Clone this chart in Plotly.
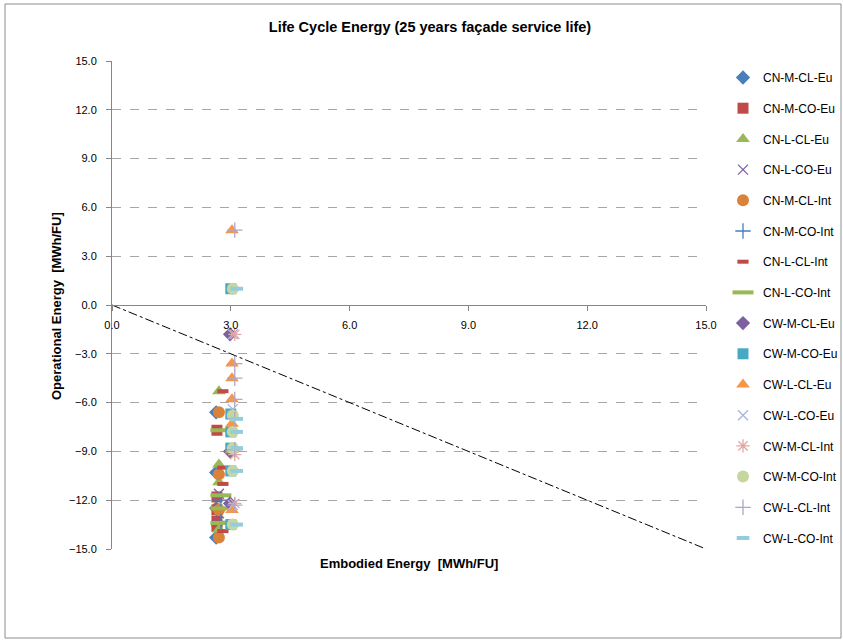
import plotly.graph_objects as go

# ---- data ----
series_names = [
    "CN-M-CL-Eu", "CN-M-CO-Eu", "CN-L-CL-Eu", "CN-L-CO-Eu",
    "CN-M-CL-Int", "CN-M-CO-Int", "CN-L-CL-Int", "CN-L-CO-Int",
    "CW-M-CL-Eu", "CW-M-CO-Eu", "CW-L-CL-Eu", "CW-L-CO-Eu",
    "CW-M-CL-Int", "CW-M-CO-Int", "CW-L-CL-Int", "CW-L-CO-Int",
]

cn_m_cl_eu_x = [2.63, 2.63, 2.63, 2.63]
cn_m_cl_eu_y = [-6.6, -10.3, -12.5, -14.3]
cn_m_co_eu_x = [2.65, 2.65, 2.65, 2.65, 2.65]
cn_m_co_eu_y = [-7.7, -11.8, -12.6, -13.3, -13.6]
cn_l_cl_eu_x = [2.7, 2.7, 2.7, 2.7, 2.7]
cn_l_cl_eu_y = [-5.3, -9.8, -10.9, -12.5, -13.8]
cn_l_co_eu_x = [2.7, 2.7]
cn_l_co_eu_y = [-11.6, -12.8]
cn_m_cl_int_x = [2.7, 2.7, 2.7, 2.7]
cn_m_cl_int_y = [-6.6, -10.4, -12.6, -14.3]
cn_m_co_int_x = [2.75, 2.75]
cn_m_co_int_y = [-12.0, -13.3]
cn_l_cl_int_x = [2.8, 2.8, 2.8, 2.8]
cn_l_cl_int_y = [-5.3, -10.0, -11.0, -13.9]
cn_l_co_int_x = [2.75, 2.75, 2.75, 2.75]
cn_l_co_int_y = [-7.7, -11.7, -12.5, -13.4]

cw_m_cl_eu_x = [2.98, 2.98, 2.98]
cw_m_cl_eu_y = [-1.8, -9.0, -12.2]
cw_m_co_eu_x = [3.0, 3.0, 3.0, 3.0, 3.0, 3.0]
cw_m_co_eu_y = [1.0, -6.7, -7.8, -8.8, -10.2, -13.5]
cw_l_cl_eu_x = [3.03, 3.03, 3.03, 3.03, 3.03, 3.03, 3.03]
cw_l_cl_eu_y = [4.6, -3.6, -4.5, -5.8, -7.3, -8.9, -12.6]
cw_l_co_eu_x = [3.05, 3.05, 3.05]
cw_l_co_eu_y = [-1.8, -6.4, -12.3]
cw_m_cl_int_x = [3.1, 3.1, 3.1]
cw_m_cl_int_y = [-1.8, -9.2, -12.2]
cw_m_co_int_x = [3.05, 3.05, 3.05, 3.05, 3.05, 3.05]
cw_m_co_int_y = [1.0, -6.8, -7.8, -8.8, -10.2, -13.5]
cw_l_cl_int_x = [3.1, 3.1, 3.1, 3.1, 3.1, 3.1, 3.1]
cw_l_cl_int_y = [4.6, -3.6, -4.5, -5.8, -7.0, -8.9, -12.3]
cw_l_co_int_x = [3.15, 3.15, 3.15, 3.15, 3.15, 3.15]
cw_l_co_int_y = [1.0, -7.0, -7.8, -8.8, -10.2, -13.5]

diag_x = [0.0, 15.0]
diag_y = [0.0, -15.0]

tick_vals = [-15, -12, -9, -6, -3, 0, 3, 6, 9, 12, 15]
x_tick_vals = [0, 3, 6, 9, 12, 15]

xs = [cn_m_cl_eu_x, cn_m_co_eu_x, cn_l_cl_eu_x, cn_l_co_eu_x,
      cn_m_cl_int_x, cn_m_co_int_x, cn_l_cl_int_x, cn_l_co_int_x,
      cw_m_cl_eu_x, cw_m_co_eu_x, cw_l_cl_eu_x, cw_l_co_eu_x,
      cw_m_cl_int_x, cw_m_co_int_x, cw_l_cl_int_x, cw_l_co_int_x]
ys = [cn_m_cl_eu_y, cn_m_co_eu_y, cn_l_cl_eu_y, cn_l_co_eu_y,
      cn_m_cl_int_y, cn_m_co_int_y, cn_l_cl_int_y, cn_l_co_int_y,
      cw_m_cl_eu_y, cw_m_co_eu_y, cw_l_cl_eu_y, cw_l_co_eu_y,
      cw_m_cl_int_y, cw_m_co_int_y, cw_l_cl_int_y, cw_l_co_int_y]

# ---- styles ----
styles = [
    dict(symbol="diamond", color="#4A7EBB", size=11, lw=0),
    dict(symbol="square", color="#BE4B48", size=11, lw=0),
    dict(symbol="triangle-up", color="#98B954", size=12, lw=0),
    dict(symbol="x-thin", color="#7D60A0", size=10, lw=1.3),
    dict(symbol="circle", color="#D9833A", size=12, lw=0),
    dict(symbol="cross-thin", color="#4A7EBB", size=11, lw=1.3),
    dict(symbol="line-ew", color="#BE4B48", size=8, lw=4),
    dict(symbol="line-ew", color="#98B954", size=15, lw=4),
    dict(symbol="diamond", color="#7D60A0", size=11, lw=0),
    dict(symbol="square", color="#46AAC5", size=11, lw=0),
    dict(symbol="triangle-up", color="#F79646", size=12, lw=0),
    dict(symbol="x-thin", color="#A5B5DB", size=10, lw=1.3),
    dict(symbol="asterisk", color="#E0A8A6", size=11, lw=1.3),
    dict(symbol="circle", color="#C5D6A0", size=12, lw=0),
    dict(symbol="cross-thin", color="#B3A5C8", size=11, lw=1.3),
    dict(symbol="line-ew", color="#93CDDD", size=9, lw=4),
]

fig = go.Figure()

fig.add_trace(go.Scatter(
    x=diag_x, y=diag_y, mode="lines",
    line=dict(color="black", width=1, dash="dashdot"),
    showlegend=False, hoverinfo="skip",
))

for name, x, y, st in zip(series_names, xs, ys, styles):
    marker = dict(symbol=st["symbol"], color=st["color"], size=st["size"])
    if st["lw"] > 0:
        marker["line"] = dict(color=st["color"], width=st["lw"])
    else:
        marker["line"] = dict(width=0)
    fig.add_trace(go.Scatter(
        x=x, y=y, mode="markers", name=name, marker=marker,
        legendgroup=name,
    ))

FONT = "Liberation Sans"
axis_grey = "#868686"

fig.update_layout(
    width=843, height=642,
    margin=dict(l=112, r=137, t=61, b=93, autoexpand=False),
    paper_bgcolor="white",
    plot_bgcolor="white",
    font=dict(family=FONT, size=11, color="black"),
    title=dict(
        text="<b>Life Cycle Energy (25 years façade service life)</b>",
        x=430 / 843, xanchor="center", y=1 - 27 / 642, yanchor="middle",
        font=dict(family=FONT, size=14.5, color="black"),
    ),
    showlegend=True,
    legend=dict(
        x=(723 - 112) / 594, xanchor="left", y=1.0 - 2 / 488, yanchor="top",
        font=dict(family=FONT, size=12, color="black"),
        tracegroupgap=11.7,
        maxheight=1.0,
        bgcolor="rgba(0,0,0,0)", borderwidth=0,
        itemsizing="trace",
    ),
    xaxis=dict(
        range=[0, 15], tickvals=x_tick_vals, tickformat=".1f",
        showgrid=False, zeroline=False,
        showline=True, linecolor=axis_grey, linewidth=1,
        ticks="outside", ticklen=5, tickcolor=axis_grey,
        ticklabelstandoff=5,
        anchor="free", position=0.5,
        tickfont=dict(family=FONT, size=11, color="black"),
    ),
    yaxis=dict(
        range=[-15, 15], tickvals=tick_vals, tickformat=".1f",
        showgrid=True, gridcolor="#A6A6A6", griddash="dash", gridwidth=1,
        zeroline=False,
        showline=True, linecolor=axis_grey, linewidth=1,
        ticks="outside", ticklen=5, tickcolor=axis_grey,
        ticklabelstandoff=7,
        tickfont=dict(family=FONT, size=11, color="black"),
    ),
    annotations=[
        dict(text="<b>Embodied Energy  [MWh/FU]</b>", xref="paper", yref="paper",
             x=(409 - 112) / 594, y=(549 - 563) / 488, xanchor="center", yanchor="middle",
             showarrow=False, font=dict(family=FONT, size=13, color="black")),
        dict(text="<b>Operational Energy  [MWh/FU]</b>", xref="paper", yref="paper",
             x=(56 - 112) / 594, y=(549 - 306) / 488, xanchor="center", yanchor="middle",
             textangle=-90, showarrow=False, font=dict(family=FONT, size=13, color="black")),
    ],
    shapes=[
        dict(type="rect", xref="paper", yref="paper",
             x0=(5 - 112) / 594, x1=(841 - 112) / 594,
             y0=(549 - 638) / 488, y1=(549 - 4) / 488,
             line=dict(color="#8C8C8C", width=1), fillcolor="rgba(0,0,0,0)", layer="below"),
    ],
)

fig.write_html(
    "out.html",
    config={"displayModeBar": False},
    post_script="document.body.style.margin='0px';document.body.style.padding='0px';",
)
